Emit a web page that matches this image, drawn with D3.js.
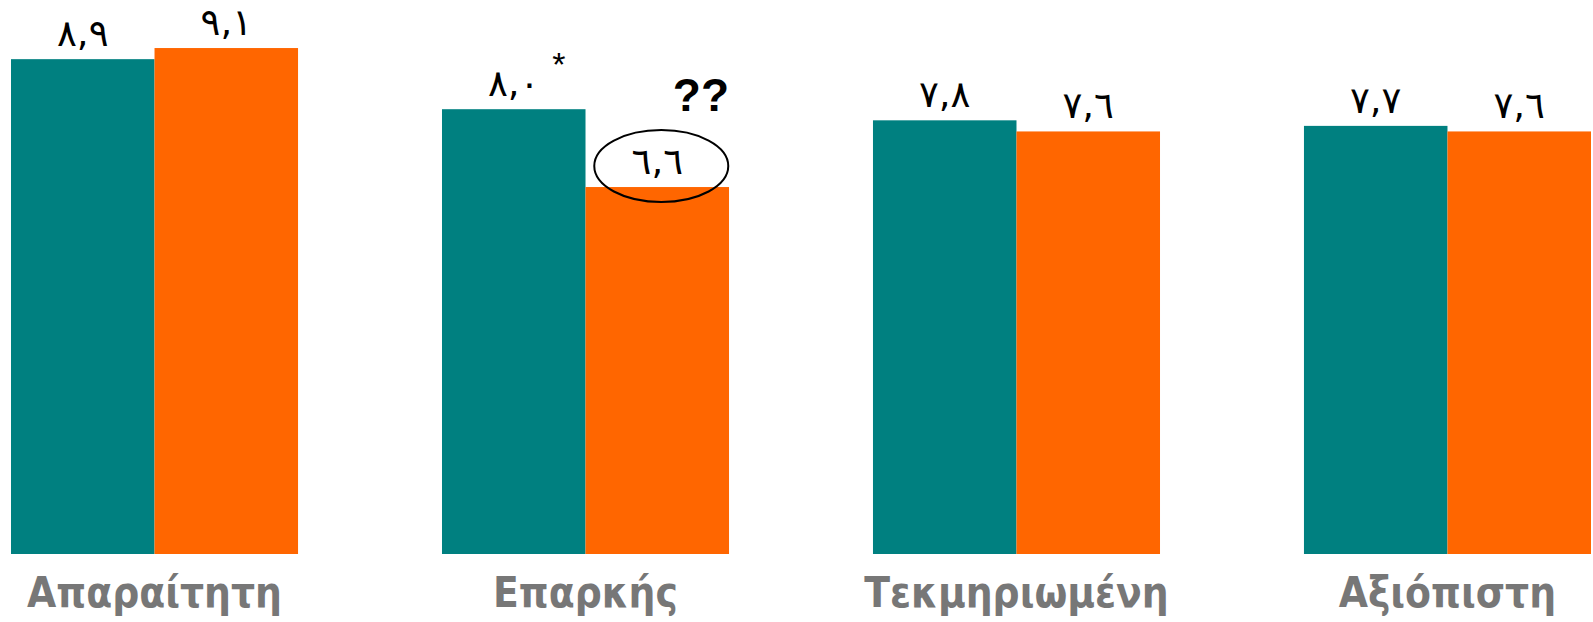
<!DOCTYPE html>
<html><head><meta charset="utf-8">
<script src="https://cdn.jsdelivr.net/npm/d3@7"></script>
<style>body{margin:0;background:#fff}svg{display:block}</style>
</head><body>
<div id="chart"></div>
<script>
const categories = ["Απαραίτητη", "Επαρκής", "Τεκμηριωμένη", "Αξιόπιστη"];
const seriesNames = ["A", "B"];
const seriesA = [8.9, 8.0, 7.8, 7.7];
const seriesB = [9.1, 6.6, 7.6, 7.6];
const labelsA = ["٨,٩", "٨,٠", "٧,٨", "٧,٧"];
const labelsB = ["٩,١", "٦,٦", "٧,٦", "٧,٦"];
const marksA = ["", "*", "", ""];
const colors = ["#008080", "#FF6600"];

const W = 1593, H = 622;
const svg = d3.select("#chart").append("svg").attr("width", W).attr("height", H);

const x0 = d3.scaleBand().domain(categories).range([11, 1591]).paddingInner(0.334).paddingOuter(0);
const x1 = d3.scaleBand().domain(seriesNames).range([0, x0.bandwidth()]).padding(0);
const y = d3.scaleLinear().domain([0, 10]).range([554, -2]);

const rows = categories.map((c, i) => ({
  cat: c,
  vals: [
    {s: "A", v: seriesA[i], lab: labelsA[i], mark: marksA[i]},
    {s: "B", v: seriesB[i], lab: labelsB[i], mark: ""}
  ]
}));

const g = svg.selectAll("g.grp").data(rows).join("g").attr("class", "grp")
  .attr("transform", d => `translate(${x0(d.cat)},0)`);

g.selectAll("rect").data(d => d.vals).join("rect")
  .attr("x", d => x1(d.s)).attr("width", x1.bandwidth())
  .attr("y", d => y(d.v)).attr("height", d => y(0) - y(d.v))
  .attr("fill", (d, i) => colors[i]);

g.selectAll("text.val").data(d => d.vals).join("text").attr("class", "val")
  .attr("x", d => x1(d.s) + x1.bandwidth() / 2)
  .attr("y", d => y(d.v) - 13)
  .attr("text-anchor", "middle")
  .attr("font-family", "DejaVu Sans")
  .attr("font-size", 37)
  .attr("fill", "#000")
  .text(d => d.lab);

g.selectAll("text.mark").data(d => d.vals.filter(v => v.mark)).join("text").attr("class", "mark")
  .attr("x", d => x1(d.s) + x1.bandwidth() / 2 + 45)
  .attr("y", d => y(d.v) - 33)
  .attr("text-anchor", "middle")
  .attr("font-family", "Liberation Sans")
  .attr("font-size", 34)
  .text(d => d.mark);

svg.selectAll("text.cat").data(categories).join("text").attr("class", "cat")
  .attr("x", d => x0(d) + x0.bandwidth() / 2)
  .attr("y", 607)
  .attr("text-anchor", "middle")
  .attr("font-family", "DejaVu Sans Condensed, DejaVu Sans")
  .attr("font-weight", "bold")
  .attr("font-size", 42)
  .attr("fill", "#777777")
  .text(d => d);

const cx = x0(categories[1]) + x1("B") + x1.bandwidth() / 2;
const vy = y(seriesB[1]);
svg.append("ellipse")
  .attr("cx", cx + 4).attr("cy", vy - 21)
  .attr("rx", 67).attr("ry", 36)
  .attr("fill", "none").attr("stroke", "#000").attr("stroke-width", 2);
svg.append("text")
  .attr("x", x0(categories[1]) + x0.bandwidth())
  .attr("y", vy - 76)
  .attr("text-anchor", "end")
  .attr("font-family", "Liberation Sans")
  .attr("font-weight", "bold")
  .attr("font-size", 46)
  .text("??");
</script>
</body></html>
